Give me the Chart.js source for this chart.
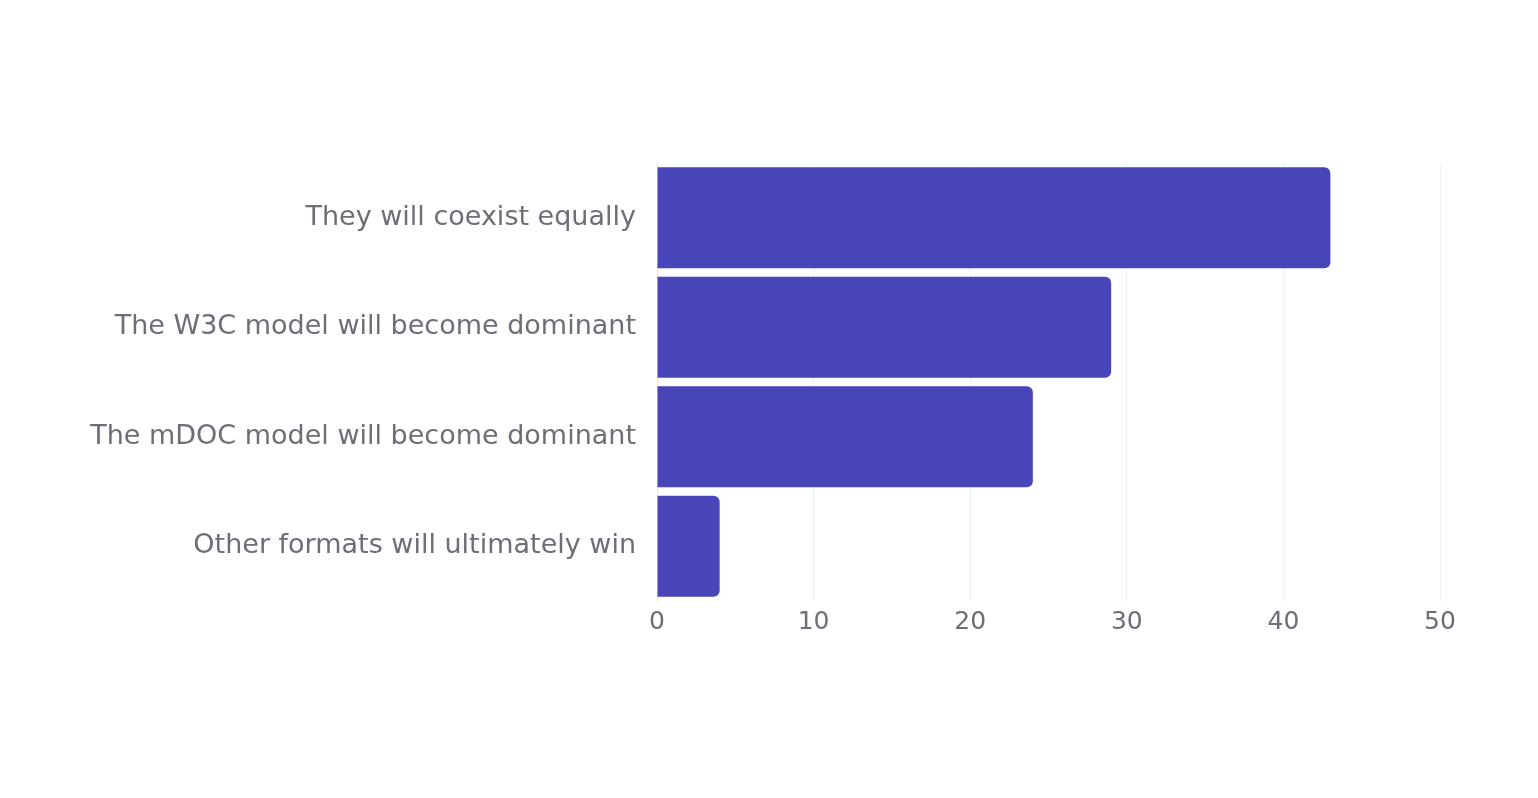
<!DOCTYPE html>
<html>
<head>
<meta charset="utf-8">
<script src="https://cdn.jsdelivr.net/npm/chart.js@4"></script>
<style>
  html, body { margin: 0; padding: 0; background: #fff; }
  #wrap { width: 1538px; height: 798px; }
</style>
</head>
<body>
<div id="wrap"><canvas id="outlookChart"></canvas></div>
<script>
// Survey answers and counts
const categories = [
  'They will coexist equally',
  'The W3C model will become dominant',
  'The mDOC model will become dominant',
  'Other formats will ultimately win'
];
const responses = [43, 29, 24, 4];
const xTicks = [0, 10, 20, 30, 40, 50];

const BAR_COLOR = '#4845b8';
const TEXT_COLOR = '#6e6d78';
const FONT = "'DejaVu Sans', sans-serif";

const ctx = document.getElementById('outlookChart');

new Chart(ctx, {
  type: 'bar',
  data: {
    labels: categories,
    datasets: [{
      data: responses,
      backgroundColor: BAR_COLOR,
      borderRadius: 6,
      borderSkipped: 'start',
      barPercentage: 0.922,
      categoryPercentage: 1
    }]
  },
  options: {
    indexAxis: 'y',
    responsive: true,
    maintainAspectRatio: false,
    animation: false,
    layout: {
      padding: { top: 163, right: 98, bottom: 155, left: 0 }
    },
    plugins: {
      legend: { display: false },
      tooltip: { enabled: false }
    },
    scales: {
      x: {
        min: 0,
        max: 50,
        afterBuildTicks: function(scale) {
          scale.ticks = xTicks.map(v => ({ value: v }));
        },
        grid: { color: '#f0f0f2', drawTicks: false },
        border: { display: false },
        ticks: {
          color: TEXT_COLOR,
          padding: 6,
          font: { family: FONT, size: 25 }
        }
      },
      y: {
        afterFit: function(scale) {
          scale.width = 657;
        },
        grid: { display: false, drawTicks: false },
        border: { display: true, color: '#e6e6ea' },
        ticks: {
          color: TEXT_COLOR,
          padding: 21,
          font: { family: FONT, size: 27 }
        }
      }
    }
  }
});
</script>
</body>
</html>
